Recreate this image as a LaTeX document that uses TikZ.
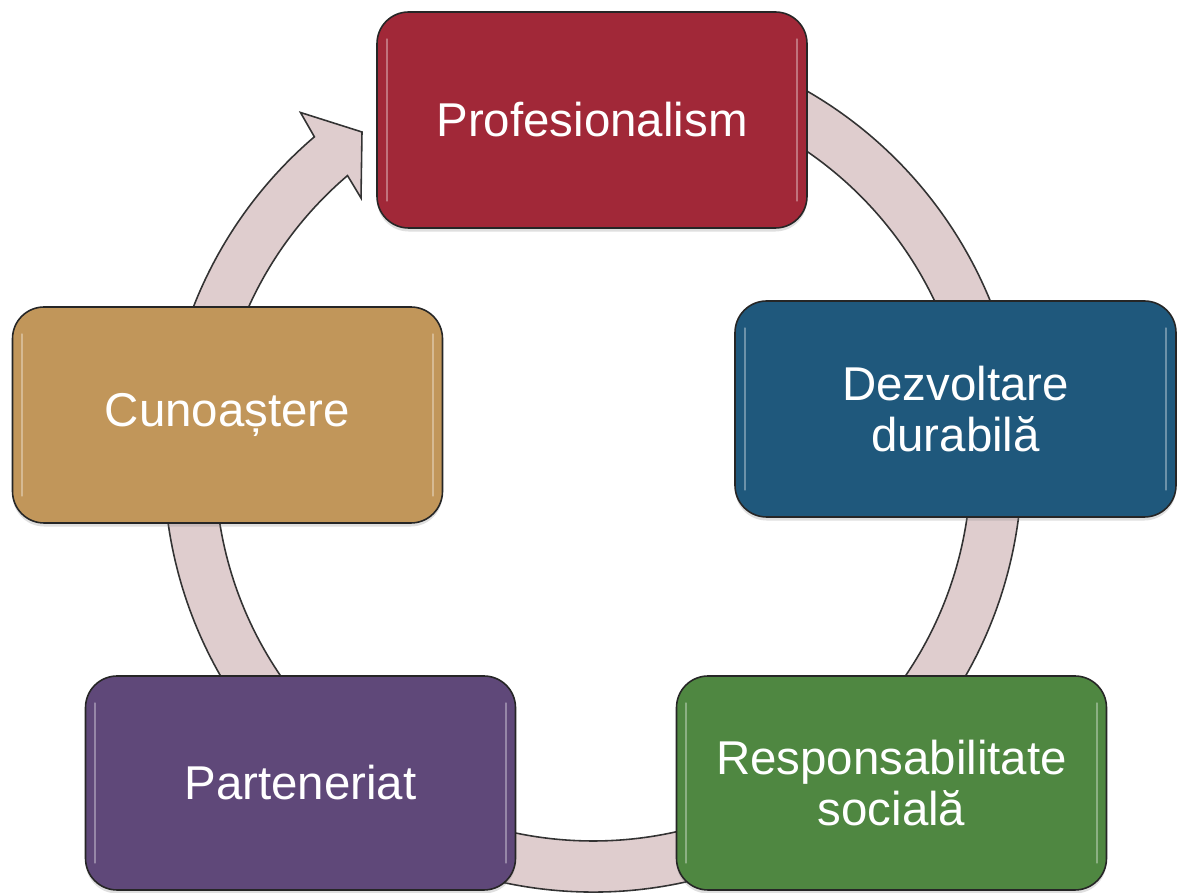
\documentclass[tikz,border=0pt]{standalone}
\usepackage{fontspec}
\setmainfont{Liberation Sans}
\usepackage{tikz}
\usepackage{xcolor}
\usetikzlibrary{shadows}

\definecolor{profred}{HTML}{A12838}
\definecolor{dezvblue}{HTML}{1F587C}
\definecolor{respgreen}{HTML}{4F8741}
\definecolor{partpurple}{HTML}{5F4879}
\definecolor{cunotan}{HTML}{C1965A}
\definecolor{bandpink}{HTML}{DFCDCE}

\begin{document}
\begin{tikzpicture}
%\draw[help lines] (0,0) grid (24,18);

\tikzset{
box/.style = {rectangle, rounded corners=18pt, draw=black!85, line width=0.9pt,
  text=white, align=center, minimum width=8.6cm, minimum height=4.32cm,
  font=\fontsize{27}{29}\selectfont,
  drop shadow={opacity=0.25, shadow xshift=0pt, shadow yshift=-2pt}},
band/.style = {fill=bandpink, draw=black!80, line width=0.9pt},
gloss/.style = {white, opacity=0.35, line width=1.3pt, line cap=round}
}

\useasboundingbox (0,0) rectangle (23.54,17.86);

\coordinate (mid) at (11.86,8.6);
\coordinate (barb) at (6.01,15.61);
\coordinate (cut-top) at (7.24,15.22);
\coordinate (cut-bot) at (7.22,13.9);

\path[band] ([shift={(80:8.58)}]mid) arc[start angle=80, end angle=-229.5, radius=8.58]
  -- (barb) -- (cut-top) -- (cut-bot)
  -- ([shift={(-229.5:7.56)}]mid) arc[start angle=-229.5, end angle=80, radius=7.56]
  -- cycle;

\node[box, fill=profred] (prof) at (11.84,15.46) {Profesionalism};
\node[box, fill=dezvblue, minimum width=8.82cm] (dezv) at (19.11,9.68) {Dezvoltare\\durabilă};
\node[box, fill=respgreen, minimum height=4.28cm] (resp) at (17.83,2.2) {Responsabilitate\\socială};
\node[box, fill=partpurple, minimum height=4.28cm] (part) at (6.01,2.2) {Parteneriat};
\node[box, fill=cunotan] (cuno) at (4.55,9.56) {Cunoaștere};

\foreach \n in {prof,dezv,resp,part,cuno}{
  \draw[gloss] ([xshift=6pt,yshift=-16pt]\n.north west) -- ([xshift=6pt,yshift=16pt]\n.south west);
  \draw[gloss] ([xshift=-6pt,yshift=-16pt]\n.north east) -- ([xshift=-6pt,yshift=16pt]\n.south east);
}

\end{tikzpicture}
\end{document}
